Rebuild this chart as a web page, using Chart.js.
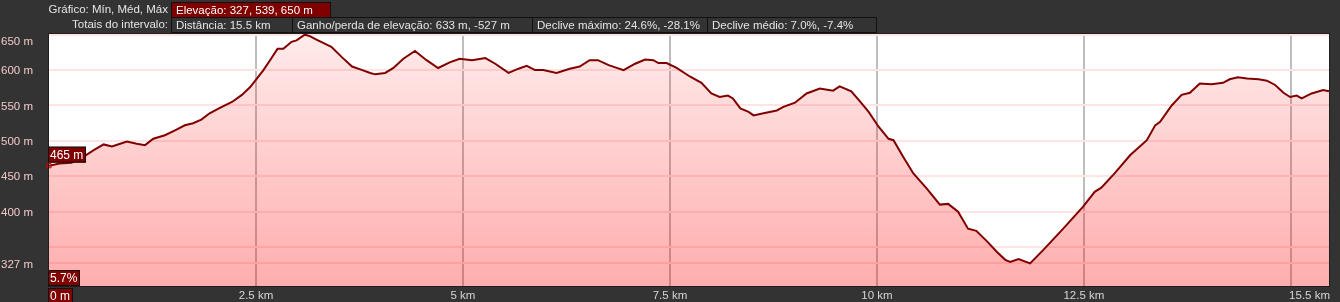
<!DOCTYPE html>
<html lang="pt-br">

<head>
  <meta charset="UTF-8" />
  <title>Perfil de elevação</title>
  <script src="https://cdn.jsdelivr.net/npm/chart.js"></script>
  <style>
    body {
      margin: 0;
      background: #333333;
      font-family: 'Liberation Sans', Arial, sans-serif;
      font-size: 11.5px;
      color: #e4e4e4;
    }

    .tela {
      position: relative;
      width: 1340px;
      height: 302px;
      overflow: hidden;
    }

    .rotulo {
      position: absolute;
      left: 0;
      width: 168px;
      text-align: right;
      line-height: 15px;
    }

    .caixa {
      position: absolute;
      box-sizing: border-box;
      border: 1px solid #111;
      padding-left: 4px;
      line-height: 14px;
      white-space: nowrap;
    }

    .caixa.ativa {
      background: #800000;
      color: #fff;
    }

    canvas {
      position: absolute;
      left: 0;
      top: 0;
    }
  </style>
</head>

<body>
  <div class="tela">
    <canvas id="graficoElevacao" width="1340" height="302"></canvas>

    <div class="rotulo" style="top: 2px;">Gráfico: Mín, Méd, Máx</div>
    <div class="caixa ativa" style="left: 171px; top: 2px; width: 160px; height: 16px;">Elevação: 327, 539, 650 m</div>

    <div class="rotulo" style="top: 17px;">Totais do intervalo:</div>
    <div class="caixa" style="left: 171px; top: 17px; width: 122px; height: 16px;">Distância: 15.5 km</div>
    <div class="caixa" style="left: 292px; top: 17px; width: 241px; height: 16px;">Ganho/perda de elevação: 633 m, -527 m</div>
    <div class="caixa" style="left: 532px; top: 17px; width: 176px; height: 16px;">Declive máximo: 24.6%, -28.1%</div>
    <div class="caixa" style="left: 707px; top: 17px; width: 170px; height: 16px;">Declive médio: 7.0%, -7.4%</div>
  </div>

  <script>
    // perfil (km, m)
    const distancias = [
      0.00, 0.13, 0.27, 0.41, 0.54, 0.66, 0.76, 0.86, 0.94, 1.06,
      1.16, 1.26, 1.40, 1.54, 1.64, 1.74, 1.84, 1.94, 2.07, 2.21,
      2.33, 2.43, 2.51, 2.59, 2.67, 2.76, 2.83, 2.93, 2.99, 3.09,
      3.15, 3.23, 3.41, 3.54, 3.66, 3.76, 3.88, 3.94, 4.06, 4.16,
      4.28, 4.42, 4.56, 4.70, 4.84, 4.96, 5.11, 5.27, 5.39, 5.55,
      5.67, 5.77, 5.87, 5.97, 6.13, 6.29, 6.41, 6.53, 6.63, 6.76,
      6.94, 7.08, 7.20, 7.30, 7.36, 7.46, 7.58, 7.74, 7.88, 8.00,
      8.10, 8.20, 8.26, 8.35, 8.45, 8.51, 8.63, 8.79, 8.87, 9.01,
      9.15, 9.31, 9.47, 9.55, 9.69, 9.80, 9.90, 10.02, 10.14, 10.20,
      10.32, 10.44, 10.60, 10.76, 10.86, 10.98, 11.10, 11.20, 11.33, 11.45,
      11.55, 11.61, 11.71, 11.85, 12.01, 12.25, 12.49, 12.63, 12.71, 12.87,
      13.06, 13.26, 13.36, 13.42, 13.56, 13.68, 13.78, 13.90, 14.04, 14.18,
      14.26, 14.36, 14.47, 14.61, 14.71, 14.81, 14.91, 14.99, 15.07, 15.13,
      15.25, 15.39, 15.46
    ];

    const elevacoes = [
      465, 468, 469, 477, 487, 495, 492, 496, 499, 496,
      494, 503, 508, 516, 522, 525, 530, 539, 547, 555,
      565, 576, 588, 600, 614, 630, 630, 640, 642, 650,
      648, 643, 633, 618, 605, 601, 596, 594, 596, 603,
      616, 627, 614, 603, 611, 616, 614, 617, 609, 596,
      602, 606, 600, 600, 596, 602, 605, 614, 614, 607,
      600, 609, 615, 614, 610, 610, 603, 591, 582, 567,
      562, 564, 560, 546, 541, 536, 539, 543, 548, 554,
      567, 574, 571, 577, 570, 555, 541, 520, 503, 501,
      477, 454, 433, 410, 411, 400, 376, 373, 358, 343,
      332, 329, 333, 327, 346, 376, 407, 428, 434, 454,
      480, 501, 522, 527, 550, 565, 568, 581, 580, 582,
      587, 590, 588, 587, 585, 579, 568, 562, 564, 560,
      567, 572, 570
    ];

    const ticksElevacao = [327, 350, 400, 450, 500, 550, 600, 650];
    const rotulosElevacao = ['327 m', '', '400 m', '450 m', '500 m', '550 m', '600 m', '650 m'];

    const ticksDistancia = [2.5, 5, 7.5, 10, 12.5, 15];
    const rotulosDistancia = ['2.5 km', '5 km', '7.5 km', '10 km', '12.5 km', ''];
    const distanciaTotal = 15.46;
    const rotuloFinal = '15.5 km';

    const cursorDistancia = 0;
    const cursorElevacao = 465;
    const cursorDeclive = '5.7%';
    const cursorRotuloDist = '0 m';

    const pontos = distancias.map((d, i) => ({ x: d, y: elevacoes[i] }));

    const fonte = "11.5px 'Liberation Sans', Arial, sans-serif";

    function caixaTexto(ctx, texto, x, y, h) {
      ctx.font = "12px 'Liberation Sans', Arial, sans-serif";
      const w = Math.ceil(ctx.measureText(texto).width) + 4;
      ctx.fillStyle = '#800000';
      ctx.fillRect(x, y, w, h);
      ctx.strokeStyle = '#111';
      ctx.lineWidth = 1;
      ctx.strokeRect(x + 0.5, y + 0.5, w - 1, h - 1);
      ctx.fillStyle = '#ffffff';
      ctx.textAlign = 'left';
      ctx.textBaseline = 'middle';
      ctx.fillText(texto, x + 2, y + h / 2 + 1);
    }

    const rotulosPlugin = {
      id: 'rotulos',
      afterDraw(chart) {
        const ctx = chart.ctx;
        const area = chart.chartArea;
        const sx = chart.scales.x;
        const sy = chart.scales.y;
        ctx.save();

        // moldura
        ctx.strokeStyle = '#1e1e1e';
        ctx.lineWidth = 1;
        ctx.strokeRect(area.left - 0.5, area.top - 0.5, area.right - area.left + 1, area.bottom - area.top + 1);

        // eixo y
        ctx.font = fonte;
        ctx.fillStyle = '#f2c8c8';
        ctx.textAlign = 'right';
        ctx.textBaseline = 'middle';
        ticksElevacao.forEach((v, i) => {
          if (!rotulosElevacao[i]) return;
          const py = Math.max(sy.getPixelForValue(v), area.top + 7);
          ctx.fillText(rotulosElevacao[i], area.left - 16, py + 1);
        });

        // eixo x
        ctx.fillStyle = '#d6d6d6';
        ctx.textAlign = 'center';
        ticksDistancia.forEach((v, i) => {
          if (!rotulosDistancia[i]) return;
          ctx.fillText(rotulosDistancia[i], sx.getPixelForValue(v), area.bottom + 10);
        });
        ctx.textAlign = 'right';
        ctx.fillText(rotuloFinal, area.right + 1, area.bottom + 10);

        // cursor
        const cx = sx.getPixelForValue(cursorDistancia);
        const cy = sy.getPixelForValue(cursorElevacao);
        caixaTexto(ctx, cursorElevacao + ' m', cx - 1, cy - 19, 16);
        caixaTexto(ctx, cursorDeclive, cx - 1, area.bottom - 16, 16);
        caixaTexto(ctx, cursorRotuloDist, cx - 1, area.bottom + 2, 15);

        ctx.restore();
      }
    };

    const fundoPlugin = {
      id: 'fundo',
      beforeDraw(chart) {
        const a = chart.chartArea;
        chart.ctx.save();
        chart.ctx.fillStyle = '#ffffff';
        chart.ctx.fillRect(a.left, a.top, a.right - a.left, a.bottom - a.top);
        chart.ctx.restore();
      }
    };

    const config = {
      type: 'line',
      data: {
        datasets: [{
          label: 'Elevação',
          data: pontos,
          borderColor: '#800000',
          borderWidth: 2,
          tension: 0,
          fill: 'start',
          backgroundColor: (c) => {
            const a = c.chart.chartArea;
            if (!a) return 'rgba(255, 0, 0, 0.2)';
            const g = c.chart.ctx.createLinearGradient(0, a.top, 0, a.bottom);
            g.addColorStop(0, 'rgba(255, 0, 0, 0.08)');
            g.addColorStop(1, 'rgba(255, 0, 0, 0.32)');
            return g;
          },
          pointRadius: (c) => c.dataIndex === 0 ? 3 : 0,
          pointStyle: 'rect',
          pointBorderColor: '#e00000',
          pointBackgroundColor: 'rgba(0, 0, 0, 0)',
          pointBorderWidth: 1,
          clip: false,
        }]
      },
      options: {
        responsive: false,
        animation: false,
        devicePixelRatio: 1,
        layout: {
          padding: { left: 49, top: 34, right: 11, bottom: 16 }
        },
        plugins: {
          legend: { display: false },
          tooltip: { enabled: false }
        },
        scales: {
          x: {
            type: 'linear',
            min: 0,
            max: distanciaTotal,
            afterBuildTicks: (s) => { s.ticks = ticksDistancia.map(v => ({ value: v })); },
            ticks: { display: false },
            border: { display: false },
            grid: { color: '#bdbdbd', lineWidth: 2, drawTicks: false }
          },
          y: {
            min: 295,
            max: 651,
            afterBuildTicks: (s) => { s.ticks = ticksElevacao.map(v => ({ value: v })); },
            ticks: { display: false },
            border: { display: false },
            grid: { color: '#ffe4e4', lineWidth: 2, drawTicks: false }
          }
        }
      },
      plugins: [fundoPlugin, rotulosPlugin]
    };

    new Chart(document.getElementById('graficoElevacao'), config);
  </script>
</body>

</html>
